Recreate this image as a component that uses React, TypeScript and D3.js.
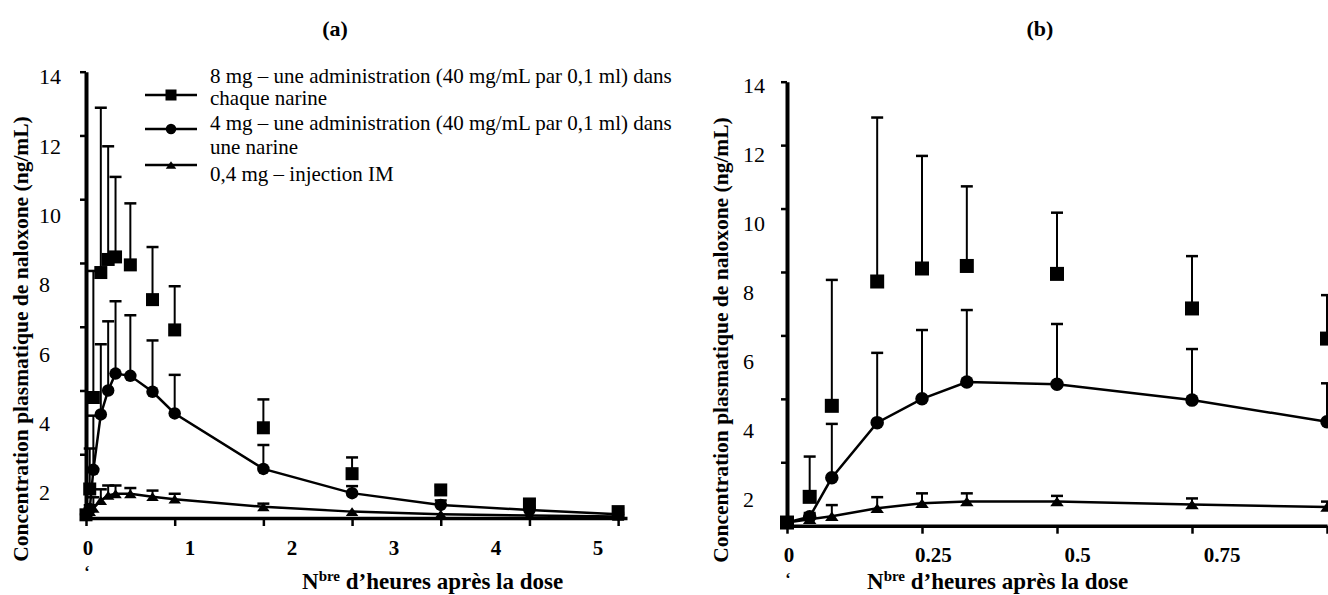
import React, { useEffect, useRef } from 'react'
import * as d3 from 'd3'

// sampling times (hours)
const times = [0, 0.042, 0.083, 0.167, 0.25, 0.333, 0.5, 0.75, 1, 2, 3, 4, 5, 6]

// 8 mg (squares), mean and top of error bar
const mean8 = [0.1, 0.91, 3.78, 7.7, 8.11, 8.19, 7.94, 6.85, 5.9, 2.83, 1.39, 0.88, 0.44, 0.2]
const top8 = [0.1, 2.18, 7.75, 12.87, 11.66, 10.7, 9.87, 8.5, 7.27, 3.72, 1.9, 1.0, 0.55, 0.3]

// 4 mg (circles)
const mean4 = [0.1, 0.28, 1.51, 3.25, 4.0, 4.53, 4.46, 3.96, 3.28, 1.54, 0.78, 0.41, 0.25, 0.12]
const top4 = [0.1, 0.4, 3.21, 5.45, 6.17, 6.8, 6.36, 5.57, 4.49, 2.29, 1.0, 0.55, 0.35, 0.2]

// 0,4 mg IM (triangles)
const meanIM = [0.1, 0.2, 0.3, 0.55, 0.71, 0.76, 0.76, 0.67, 0.59, 0.35, 0.2, 0.12, 0.08, 0.05]
const topIM = [0.1, 0.3, 0.65, 0.9, 1.02, 1.02, 0.94, 0.86, 0.76, 0.45, 0.25, 0.15, 0.1, 0.07]

const legendLines = [
  '8 mg – une administration (40 mg/mL par 0,1 ml) dans',
  'chaque narine',
  '4 mg – une administration (40 mg/mL par 0,1 ml) dans',
  'une narine',
  '0,4 mg – injection IM'
]

const yTicks = [0, 2, 4, 6, 8, 10, 12, 14]
const yLabels = [2, 4, 6, 8, 10, 12, 14]
const xTicksA = [0, 1, 2, 3, 4, 5, 6]
const xLabelsA = [0, 1, 2, 3, 4, 5]
const xTicksB = [0, 0.25, 0.5, 0.75, 1]
const xLabelsB = [0, 0.25, 0.5, 0.75]

const yTitle = 'Concentration plasmatique de naloxone (ng/mL)'
const FONT = "'Liberation Serif', 'Times New Roman', serif"

const series = [
  { means: mean8, tops: top8, shape: 'square', line: false },
  { means: mean4, tops: top4, shape: 'circle', line: true },
  { means: meanIM, tops: topIM, shape: 'triangle', line: true }
]

function marker(g, shape, x, y, s) {
  if (shape === 'square') {
    g.append('rect').attr('x', x - s / 2).attr('y', y - s / 2).attr('width', s).attr('height', s).attr('fill', '#000')
  } else if (shape === 'circle') {
    g.append('circle').attr('cx', x).attr('cy', y).attr('r', (s - 0.5) / 2).attr('fill', '#000')
  } else {
    const w = s - 0.5
    const h = s * 0.68
    g.append('path')
      .attr('d', `M${x - w / 2},${y + h / 2}L${x + w / 2},${y + h / 2}L${x},${y - h / 2}Z`)
      .attr('fill', '#000')
  }
}

function drawPanel(svg, o) {
  const x = d3.scaleLinear().domain(o.xDomain).range(o.xRange)
  const y = d3.scaleLinear().domain([0, 14]).range(o.yRange)
  const g = svg.append('g')

  // error bars
  series.forEach(s => {
    s.means.forEach((m, i) => {
      if (s.tops[i] - m < 0.05) return
      const cx = x(times[i])
      g.append('line').attr('x1', cx).attr('x2', cx).attr('y1', y(m)).attr('y2', y(s.tops[i]))
        .attr('stroke', '#000').attr('stroke-width', 2)
      g.append('line').attr('x1', cx - 6).attr('x2', cx + 6).attr('y1', y(s.tops[i])).attr('y2', y(s.tops[i]))
        .attr('stroke', '#000').attr('stroke-width', 2.5)
    })
  })

  // axes
  const yAxis = d3.axisLeft(y).tickValues(yTicks).tickSize(6).tickSizeOuter(0).tickFormat(() => '')
  const ya = g.append('g').attr('transform', `translate(${o.xRange[0]},0)`).call(yAxis)
  ya.select('.domain').attr('stroke-width', 4)
  ya.selectAll('.tick line').attr('stroke-width', 2.5)

  const xAxis = d3.axisBottom(x).tickValues(o.xTicks).tickSize(8).tickSizeOuter(0).tickFormat(() => '')
  const xa = g.append('g').attr('transform', `translate(0,${o.yRange[0]})`).call(xAxis)
  xa.select('.domain').attr('stroke-width', 3.5)
  xa.selectAll('.tick line').attr('stroke-width', 2.5)

  // lines
  const lineGen = d3.line().x(d => x(d[0])).y(d => y(d[1]))
  series.filter(s => s.line).forEach(s => {
    g.append('path')
      .attr('d', lineGen(times.map((t, i) => [t, s.means[i]])))
      .attr('fill', 'none').attr('stroke', '#000').attr('stroke-width', 2.5)
  })

  // markers
  series.forEach(s => {
    s.means.forEach((m, i) => marker(g, s.shape, x(times[i]), y(m), o.marker))
  })

  // y tick labels (offset as in source)
  const yl = d3.scaleLinear().domain([2, 14]).range(o.yLabelRange)
  g.selectAll('.ylab').data(yLabels).enter().append('text')
    .attr('x', o.yLabelX).attr('y', d => yl(d)).attr('dy', '0.35em')
    .attr('font-family', FONT).attr('font-size', 22).text(d => d)

  // x tick labels
  const xl = d3.scaleLinear().domain(o.xLabelDomain).range(o.xLabelRange)
  g.selectAll('.xlab').data(o.xLabels).enter().append('text')
    .attr('x', d => xl(d)).attr('y', o.xLabelY).attr('text-anchor', 'middle')
    .attr('font-family', FONT).attr('font-size', 21).attr('font-weight', 'bold').text(d => d)

  // y title
  g.append('text')
    .attr('transform', `translate(${o.yTitleX},${o.yTitleY}) rotate(-90)`)
    .attr('text-anchor', 'middle').attr('dy', '0.35em')
    .attr('font-family', FONT).attr('font-size', 21.5).attr('font-weight', 'bold').text(yTitle)

  // x title
  const xt = g.append('text').attr('x', o.xTitleX).attr('y', o.xTitleY)
    .attr('font-family', FONT).attr('font-size', 23).attr('font-weight', 'bold')
  xt.append('tspan').text('N')
  xt.append('tspan').attr('dy', -8).attr('font-size', 15).text('bre')
  xt.append('tspan').attr('dy', 8).text(' d’heures après la dose')

  // stray glyph fragment under the first tick label, as in the source
  g.append('text').attr('x', o.xRange[0] + 1).attr('y', o.xLabelY + 22).attr('text-anchor', 'middle')
    .attr('font-family', FONT).attr('font-size', 16).attr('font-weight', 'bold').text('‘')

  g.append('text').attr('x', o.titleX).attr('y', 36).attr('text-anchor', 'middle')
    .attr('font-family', FONT).attr('font-size', 22).attr('font-weight', 'bold').text(o.title)
}

export default function App() {
  const ref = useRef(null)
  useEffect(() => {
    const svg = d3.select(ref.current)
    svg.selectAll('*').remove()

    drawPanel(svg, {
      xDomain: [0, 6.1], xRange: [86, 627], yRange: [518, 71.7],
      xTicks: xTicksA, xLabels: xLabelsA, xLabelDomain: [0, 5], xLabelRange: [88, 598], xLabelY: 555,
      yLabelRange: [492.5, 76.7], yLabelX: 39,
      yTitleX: 20, yTitleY: 339, xTitleX: 302, xTitleY: 589,
      title: '(a)', titleX: 335, marker: 13
    })
    drawPanel(svg, {
      xDomain: [0, 1], xRange: [787, 1327], yRange: [525.7, 81.7],
      xTicks: xTicksB, xLabels: xLabelsB, xLabelDomain: [0, 0.75], xLabelRange: [789, 1222], xLabelY: 562,
      yLabelRange: [499, 85], yLabelX: 743,
      yTitleX: 720, yTitleY: 340, xTitleX: 867, xTitleY: 589,
      title: '(b)', titleX: 1040, marker: 14
    })

    // legend
    const lg = svg.append('g')
    const rowsY = [95, 129, 165]
    series.forEach((s, i) => {
      lg.append('line').attr('x1', 145).attr('x2', 197).attr('y1', rowsY[i]).attr('y2', rowsY[i])
        .attr('stroke', '#000').attr('stroke-width', 2.5)
      marker(lg, s.shape, 171, rowsY[i], 11)
    })
    const textY = [83, 105, 130, 154, 181]
    legendLines.forEach((t, i) => {
      lg.append('text').attr('x', 210).attr('y', textY[i])
        .attr('font-family', FONT).attr('font-size', 21).text(t)
    })
  }, [])

  return (
    <div>
      <style>{'body{margin:0}'}</style>
      <svg ref={ref} width={1328} height={595} style={{ display: 'block', background: '#fff' }} />
    </div>
  )
}
